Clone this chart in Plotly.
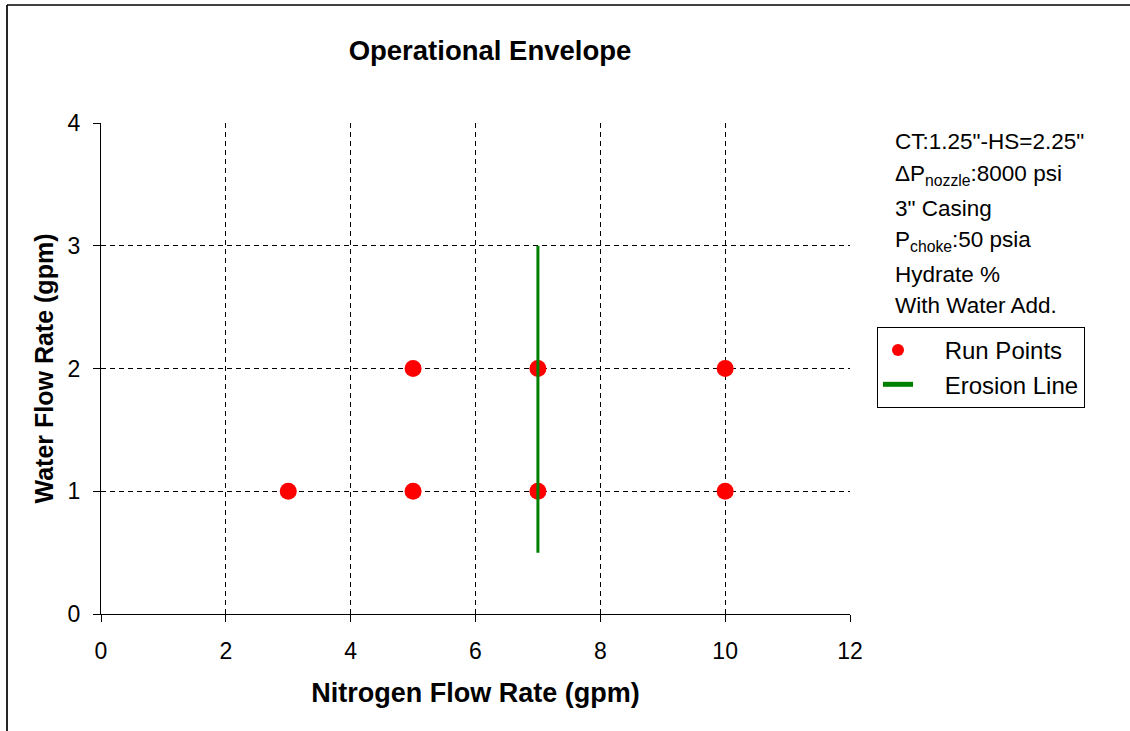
import plotly.graph_objects as go

# Data
run_x = [3, 5, 5, 7, 7, 10, 10]
run_y = [1, 1, 2, 1, 2, 1, 2]
erosion_x = [7, 7]
erosion_y = [0.5, 3]
x_ticks = [0, 2, 4, 6, 8, 10, 12]
y_ticks = [0, 1, 2, 3, 4]
series_names = ["Run Points", "Erosion Line"]
note_lines = [
    'CT:1.25"-HS=2.25"',
    'ΔP<sub>nozzle</sub>:8000 psi',
    '3" Casing',
    'P<sub>choke</sub>:50 psia',
    'Hydrate %',
    'With Water Add.',
]

W, H = 1130, 731
L, R, T, B = 101, 280, 123, 117
pw, ph = W - L - R, H - T - B
FONT = "Arial, 'Liberation Sans', sans-serif"
PAD = "\u00a0\u00a0\u00a0\u00a0"

fig = go.Figure()
fig.add_trace(go.Scatter(
    x=run_x, y=run_y, mode="markers", name=PAD + series_names[0],
    marker=dict(color="#ff0000", size=17),
))
fig.add_trace(go.Scatter(
    x=erosion_x, y=erosion_y, mode="lines", name=PAD + series_names[1],
    line=dict(color="#008000", width=3),
))

def px2paper_x(px):
    return (px - L) / pw

def px2paper_y(py):
    return (H - B - py) / ph

annotations = []
line_y = [141, 175, 208, 241, 274, 305]
for txt, yy in zip(note_lines, line_y):
    annotations.append(dict(
        text=txt, xref="paper", yref="paper",
        x=px2paper_x(893), y=px2paper_y(yy), xanchor="left", yanchor="middle",
        showarrow=False, font=dict(family=FONT, size=22.5, color="black"),
    ))

shapes = [
    dict(type="line", xref="paper", yref="paper",
         x0=px2paper_x(7), x1=px2paper_x(7), y0=px2paper_y(5), y1=px2paper_y(H + 5),
         line=dict(color="black", width=1.7)),
    dict(type="line", xref="paper", yref="paper",
         x0=px2paper_x(7), x1=px2paper_x(W + 5), y0=px2paper_y(5), y1=px2paper_y(5),
         line=dict(color="black", width=1.7)),
]

fig.update_layout(
    width=W, height=H,
    margin=dict(l=L, r=R, t=T, b=B, autoexpand=False),
    paper_bgcolor="white", plot_bgcolor="white",
    font=dict(family=FONT, size=23, color="black"),
    title=dict(text="<b>Operational Envelope</b>", x=490 / W,
               xanchor="center", y=1 - 50 / H, yanchor="middle",
               font=dict(family=FONT, size=27.5, color="black")),
    xaxis=dict(
        range=[0, 12], tickvals=x_ticks, showline=True, linecolor="black", linewidth=1,
        ticks="outside", ticklen=7, tickcolor="black", tickwidth=1,
        showgrid=True, gridcolor="black", gridwidth=1, griddash="5px,4px",
        zeroline=False, mirror=False, ticklabelstandoff=9,
        title=dict(text="<b>Nitrogen Flow Rate (gpm)</b>", font=dict(family=FONT, size=27), standoff=20),
        tickfont=dict(family=FONT, size=23),
    ),
    yaxis=dict(
        range=[0, 4], tickvals=y_ticks, showline=True, linecolor="black", linewidth=1,
        ticks="outside", ticklen=7, tickcolor="black", tickwidth=1,
        showgrid=True, gridcolor="black", gridwidth=1, griddash="5px,4px",
        zeroline=False, mirror=False, ticklabelstandoff=8,
        title=dict(text="<b>Water Flow Rate (gpm)</b>", font=dict(family=FONT, size=25), standoff=6),
        tickfont=dict(family=FONT, size=23),
    ),
    legend=dict(
        x=px2paper_x(877), y=px2paper_y(327), xanchor="left", yanchor="top",
        bordercolor="black", borderwidth=1, bgcolor="white",
        font=dict(family=FONT, size=24), itemsizing="constant",
        tracegroupgap=0,
    ),
    annotations=annotations,
    shapes=shapes,
)

fig.write_html("out.html")
